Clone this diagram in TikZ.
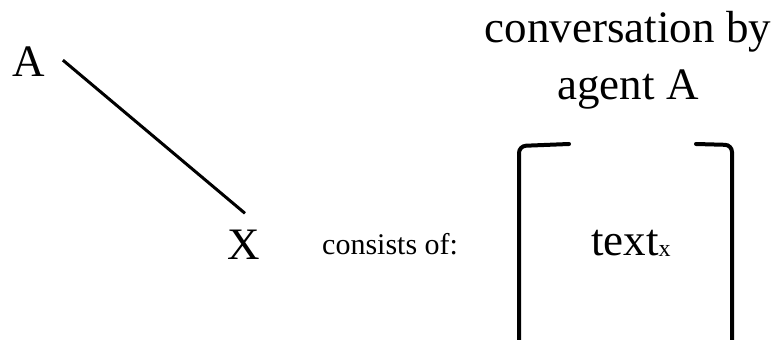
\documentclass[tikz,border=0pt]{standalone}
\usepackage{fontspec}
\setmainfont{Liberation Serif}
\usetikzlibrary{calc}
\begin{document}
\begin{tikzpicture}[x=1pt,y=1pt,
  big/.style={font=\fontsize{45}{57}\selectfont, inner sep=0pt},
  small/.style={font=\fontsize{30}{36}\selectfont, inner sep=0pt},
  link/.style={line width=3pt},
  brack/.style={line width=4pt, rounded corners=7pt, line cap=round}]
\useasboundingbox (0,0) rectangle (777,340);
\node[big, anchor=base west] (A) at (12,263) {A};
\node[big, anchor=base] (X) at (244,80) {X};
\node[small, anchor=base west] (cons) at (322,85) {consists of:};
\node[big, anchor=base west] (txt) at (591,84) {text\raisebox{-1pt}{\fontsize{24}{28}\selectfont x}};
\node[big, anchor=base, align=center] (title) at (628,240) {conversation by\\agent A};
\coordinate (a1) at ($(A.east)+(18,2)$);
\coordinate (x1) at ($(X.north)+(1,17)$);
\draw[link] (a1) -- (x1);
\draw[brack] (569,196) -- (519,194) -- (519,-10);
\draw[brack] (696,196) -- (732,195) -- (732,-10);
\end{tikzpicture}
\end{document}
